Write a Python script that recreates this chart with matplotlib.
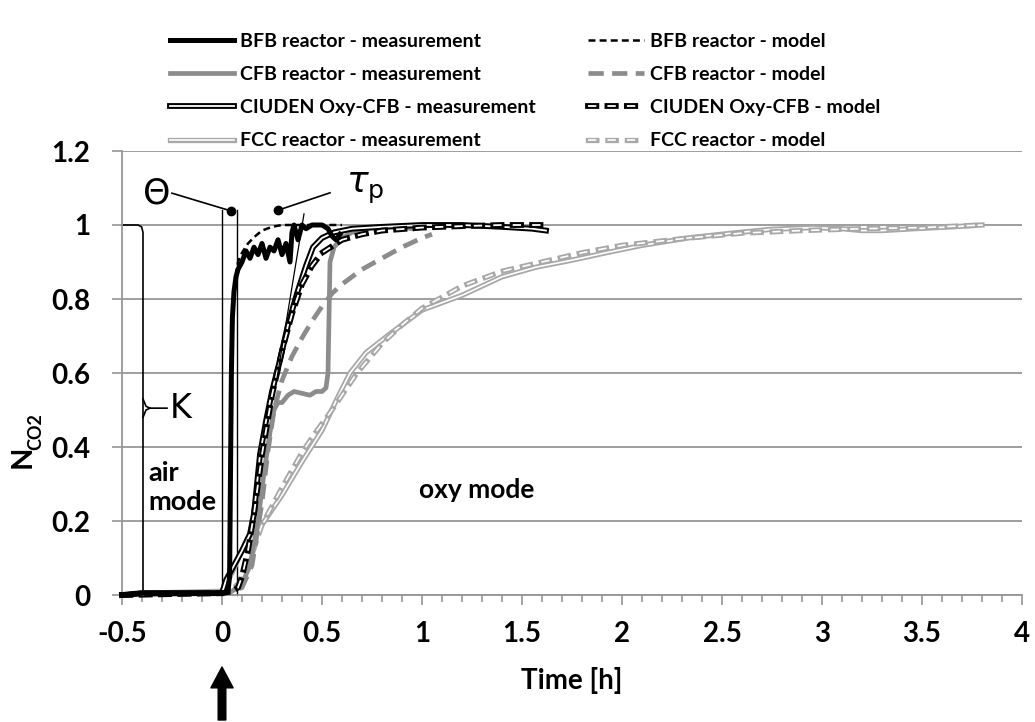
import matplotlib
matplotlib.use('Agg')
import matplotlib.pyplot as plt
from matplotlib import patheffects as pe
from matplotlib.ticker import MultipleLocator

plt.rcParams['font.family'] = ['Lato', 'DejaVu Sans']
plt.rcParams['lines.scale_dashes'] = False

# 数据
bfb_meas_x = [-0.5, -0.4, -0.2, 0.0, 0.03, 0.038, 0.042, 0.047, 0.052, 0.06, 0.07, 0.08, 0.1, 0.12,
              0.14, 0.16, 0.18, 0.2, 0.22, 0.24, 0.26, 0.28, 0.3, 0.32, 0.34, 0.35, 0.36, 0.38,
              0.4, 0.42, 0.45, 0.5, 0.53, 0.55, 0.57, 0.59]
bfb_meas_y = [0.0, 0.005, 0.005, 0.005, 0.01, 0.05, 0.3, 0.6, 0.75, 0.82, 0.86, 0.88, 0.9, 0.93,
              0.91, 0.94, 0.92, 0.95, 0.91, 0.94, 0.93, 0.96, 0.92, 0.95, 0.9, 0.98, 1.0, 0.96,
              1.0, 0.99, 1.0, 1.0, 0.99, 0.97, 0.96, 0.975]

bfb_model_x = [-0.5, 0.0, 0.03, 0.038, 0.043, 0.05, 0.06, 0.08, 0.1, 0.13, 0.16, 0.2, 0.25, 0.3, 0.4, 0.5, 0.6]
bfb_model_y = [0.0, 0.005, 0.01, 0.1, 0.5, 0.75, 0.83, 0.9, 0.925, 0.95, 0.967, 0.985, 0.995, 1.0, 1.0, 1.0, 1.0]

cfb_meas_x = [-0.5, -0.4, 0.0, 0.05, 0.1, 0.14, 0.18, 0.21, 0.24, 0.26, 0.28, 0.3, 0.33, 0.36, 0.4,
              0.44, 0.47, 0.5, 0.52, 0.53, 0.535, 0.54, 0.56, 0.6, 0.65, 0.7, 0.8, 0.9, 0.95]
cfb_meas_y = [0.0, 0.005, 0.005, 0.01, 0.03, 0.08, 0.2, 0.33, 0.44, 0.5, 0.52, 0.52, 0.54, 0.55, 0.545,
              0.54, 0.55, 0.55, 0.56, 0.6, 0.75, 0.9, 0.94, 0.965, 0.98, 0.99, 0.995, 0.995, 0.99]

cfb_model_x = [-0.5, 0.0, 0.05, 0.1, 0.15, 0.2, 0.23, 0.26, 0.3, 0.35, 0.4, 0.45, 0.5, 0.55, 0.6,
               0.7, 0.8, 0.9, 1.0, 1.05]
cfb_model_y = [0.0, 0.005, 0.01, 0.02, 0.08, 0.25, 0.39, 0.5, 0.58, 0.645, 0.695, 0.74, 0.78, 0.815, 0.84,
               0.88, 0.91, 0.94, 0.965, 0.975]

ciu_meas_x = [-0.5, -0.4, 0.0, 0.02, 0.06, 0.1, 0.14, 0.16, 0.19, 0.22, 0.25, 0.29, 0.33, 0.375, 0.42,
              0.455, 0.5, 0.56, 0.65, 0.8, 1.0, 1.2, 1.4, 1.55, 1.62]
ciu_meas_y = [0.0, 0.005, 0.005, 0.04, 0.08, 0.12, 0.165, 0.22, 0.38, 0.47, 0.55, 0.635, 0.73, 0.815, 0.89,
              0.94, 0.965, 0.98, 0.99, 0.995, 1.0, 1.0, 0.995, 0.99, 0.985]

ciu_model_x = [-0.5, 0.0, 0.05, 0.08, 0.1, 0.13, 0.16, 0.2, 0.25, 0.3, 0.35, 0.4, 0.45, 0.5, 0.6,
               0.7, 0.8, 1.0, 1.2, 1.4, 1.6]
ciu_model_y = [0.0, 0.005, 0.01, 0.02, 0.05, 0.12, 0.22, 0.38, 0.54, 0.66, 0.76, 0.84, 0.89, 0.925, 0.96,
               0.975, 0.985, 0.993, 0.997, 1.0, 1.0]

fcc_meas_x = [-0.5, -0.4, 0.0, 0.05, 0.1, 0.14, 0.17, 0.2, 0.25, 0.3, 0.4, 0.5, 0.575, 0.64, 0.72,
              0.85, 1.0, 1.2, 1.4, 1.57, 1.75, 1.92, 2.1, 2.33, 2.55, 2.74, 2.95, 3.1, 3.2, 3.3,
              3.46, 3.65, 3.8]
fcc_meas_y = [0.0, 0.005, 0.01, 0.06, 0.12, 0.16, 0.18, 0.19, 0.23, 0.27, 0.36, 0.445, 0.53, 0.6, 0.655,
              0.71, 0.77, 0.81, 0.86, 0.886, 0.905, 0.925, 0.945, 0.965, 0.978, 0.988, 0.993, 0.99,
              0.985, 0.985, 0.99, 0.995, 1.0]

fcc_model_x = [-0.5, 0.0, 0.05, 0.1, 0.15, 0.2, 0.3, 0.4, 0.475, 0.55, 0.675, 0.8, 0.9, 1.0, 1.2,
               1.4, 1.6, 1.8, 2.0, 2.3, 2.6, 2.9, 3.2, 3.5, 3.8]
fcc_model_y = [0.0, 0.005, 0.015, 0.04, 0.11, 0.19, 0.29, 0.385, 0.445, 0.5, 0.6, 0.68, 0.73, 0.775, 0.835,
               0.875, 0.9, 0.925, 0.945, 0.963, 0.978, 0.985, 0.99, 0.993, 1.0]

labels = ['BFB reactor - measurement', 'CFB reactor - measurement',
          'CIUDEN Oxy-CFB - measurement', 'FCC reactor - measurement',
          'BFB reactor - model', 'CFB reactor - model',
          'CIUDEN Oxy-CFB - model', 'FCC reactor - model']

GRID = '#969696'
CFB_C = '#8c8c8c'
FCC_C = '#a8a8a8'

fig = plt.figure(figsize=(10.35, 7.22), dpi=100)
ax = fig.add_axes([122/1035, 1-595/722, 900/1035, 444/722])

# 双线效果
def dbl(color, w):
    return [pe.Stroke(linewidth=w, foreground=color, capstyle='projecting'), pe.Normal()]

h = []
h.append(ax.plot(bfb_meas_x, bfb_meas_y, color='black', lw=3.6, clip_on=False, zorder=6)[0])
h.append(ax.plot(cfb_meas_x, cfb_meas_y, color=CFB_C, lw=3.4, clip_on=False, zorder=4)[0])
h.append(ax.plot(ciu_meas_x, ciu_meas_y, color='white', lw=1.3, clip_on=False, zorder=5,
                 path_effects=dbl('black', 4.2))[0])
h.append(ax.plot(fcc_meas_x, fcc_meas_y, color='white', lw=1.2, clip_on=False, zorder=3,
                 path_effects=dbl(FCC_C, 3.8))[0])
h.append(ax.plot(bfb_model_x, bfb_model_y, color='black', lw=1.8, ls=(0, (5, 3)), clip_on=False, zorder=6)[0])
h.append(ax.plot(cfb_model_x, cfb_model_y, color=CFB_C, lw=3.4, ls=(0, (11, 6)), clip_on=False, zorder=4)[0])
h.append(ax.plot(ciu_model_x, ciu_model_y, color='white', lw=1.3, ls=(0, (6, 8)), clip_on=False, zorder=5,
                 path_effects=dbl('black', 4.2))[0])
h.append(ax.plot(fcc_model_x, fcc_model_y, color='white', lw=1.2, ls=(0, (6, 8)), clip_on=False, zorder=3,
                 path_effects=dbl(FCC_C, 3.8))[0])

ax.set_xlim(-0.5, 4)
ax.set_ylim(0, 1.2)
ax.xaxis.set_major_locator(MultipleLocator(0.5))
ax.xaxis.set_minor_locator(MultipleLocator(0.1))
ax.yaxis.set_major_locator(MultipleLocator(0.2))
ax.xaxis.set_major_formatter(plt.FuncFormatter(lambda v, p: '%g' % v))
ax.yaxis.set_major_formatter(plt.FuncFormatter(lambda v, p: '%g' % v))
ax.grid(axis='y', color=GRID, lw=1.3)
ax.set_axisbelow(True)
for s in ['top', 'right']:
    ax.spines[s].set_visible(False)
for s in ['left', 'bottom']:
    ax.spines[s].set_color(GRID)
    ax.spines[s].set_linewidth(1.3)
ax.tick_params(axis='x', which='major', direction='out', length=7, width=1.2, color=GRID, pad=12)
ax.tick_params(axis='x', which='minor', direction='out', length=5, width=1.2, color=GRID)
ax.tick_params(axis='y', which='major', direction='out', length=7, width=1.2, color=GRID, pad=16)
for t in ax.get_xticklabels() + ax.get_yticklabels():
    t.set_fontsize(20)
    t.set_fontweight('bold')

ax.set_xlabel('Time [h]', fontsize=20, fontweight='bold', labelpad=14)
fig.text(23/1035, 1-457/722, 'N', rotation=90, ha='center', va='center', fontsize=21, fontweight='bold')
fig.text(36/1035, 1-432/722, 'CO2', rotation=90, ha='center', va='center', fontsize=13, fontweight='bold')

# 标注
ax.plot([0, 0], [0, 1.04], color='black', lw=1, zorder=2, clip_on=False)
ax.plot([0.073, 0.073], [0, 1.04], color='black', lw=1, zorder=2, clip_on=False)
ax.plot([-0.25, 0.045], [1.086, 1.038], color='black', lw=1.2)
ax.plot([0.045], [1.038], 'o', color='black', ms=6)
ax.text(-0.325, 1.086, 'Θ', fontsize=25, ha='center', va='center', family='DejaVu Sans')
ax.plot([0.28, 0.54], [1.04, 1.087], color='black', lw=1.2)
ax.plot([0.28], [1.04], 'o', color='black', ms=6)
ax.text(0.715, 1.1, r'$\tau_{\rm p}$', fontsize=26, ha='center', va='center')
ax.plot([0.41, 0.27], [1.03, 0.57], color='black', lw=0.9, zorder=5)

# K 括号
ax.plot([-0.5, -0.42, -0.402, -0.395, -0.395], [1.0, 1.0, 0.995, 0.98, 0.005], color='black', lw=1.2, clip_on=False)
ax.plot([-0.395, -0.38, -0.36, -0.275], [0.53, 0.51, 0.505, 0.505], color='black', lw=1.2)
ax.plot([-0.395, -0.38, -0.36], [0.48, 0.5, 0.505], color='black', lw=1.2)
ax.text(-0.205, 0.505, 'K', fontsize=24, ha='center', va='center', family='DejaVu Sans')

ax.text(-0.37, 0.29, 'air\nmode', fontsize=19.5, fontweight='bold', ha='left', va='center', linespacing=1.25)
ax.text(1.275, 0.284, 'oxy mode', fontsize=19, fontweight='bold', ha='center', va='center')

# 箭头
ax.annotate('', xy=(0, 1-667/722), xytext=(0, 1-720/722), xycoords=('data', 'figure fraction'),
            textcoords=('data', 'figure fraction'),
            arrowprops=dict(width=5.5, headwidth=16, headlength=15, color='black'))

# 图例
fig.legend(h[:4], labels[:4], loc='upper left', bbox_to_anchor=(170/1035, 1-33/722),
           frameon=False, prop={'size': 14, 'weight': 'bold'}, handlelength=3.3,
           handletextpad=0.3, labelspacing=0.83, borderpad=0, borderaxespad=0)
fig.legend(h[4:], labels[4:], loc='upper left', bbox_to_anchor=(588/1035, 1-33/722),
           frameon=False, prop={'size': 14, 'weight': 'bold'}, handlelength=2.9,
           handletextpad=0.3, labelspacing=0.83, borderpad=0, borderaxespad=0)

fig.savefig('out.png', dpi=100)
